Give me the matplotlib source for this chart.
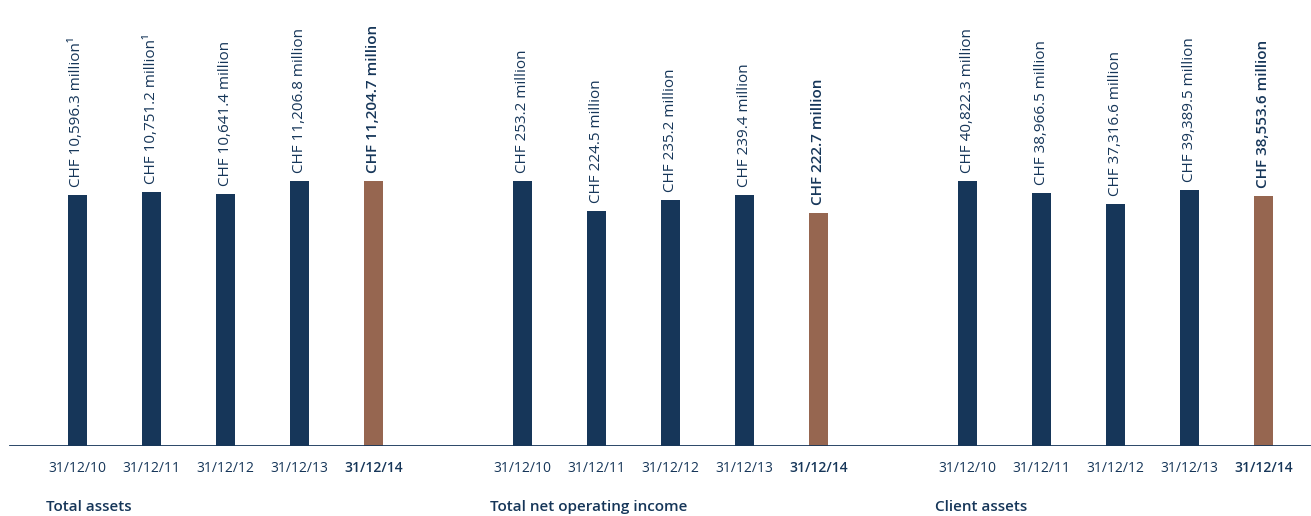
import numpy as np
import matplotlib.pyplot as plt

plt.rcParams['font.family'] = ['Open Sans', 'DejaVu Sans']

groups = ['Total assets', 'Total net operating income', 'Client assets']
dates = ['31/12/10', '31/12/11', '31/12/12', '31/12/13', '31/12/14']
total_assets = [10596.3, 10751.2, 10641.4, 11206.8, 11204.7]
net_income = [253.2, 224.5, 235.2, 239.4, 222.7]
client_assets = [40822.3, 38966.5, 37316.6, 39389.5, 38553.6]
footnote = [['¹', '¹', '', '', ''], ['', '', '', '', ''], ['', '', '', '', '']]

navy = '#163659'
brown = '#966650'

fig = plt.figure(figsize=(13.11, 5.16), dpi=100)
# axes spans from the baseline (y=446px) up to the top of the figure
ax = fig.add_axes([0, 70 / 516, 1, 446 / 516])
px = 74.06
ax.set_xlim(-77 / px, (1311 - 77) / px)
ax.set_ylim(0, 446 / 265)

positions = []
labels = []
for g, vals in enumerate([total_assets, net_income, client_assets]):
    vmax = max(vals)
    for i, v in enumerate(vals):
        x = g * 6.01 + i
        h = v / vmax
        last = i == len(vals) - 1
        ax.bar(x, h, width=19 / px, color=brown if last else navy, zorder=2)
        if v >= 1000:
            s = 'CHF {:,.1f} million'.format(v)
        else:
            s = 'CHF {:.1f} million'.format(v)
        s += footnote[g][i]
        ax.text(x, h + 8 / 265, s, rotation=90, ha='center', va='bottom',
                fontsize=11, color=navy,
                fontweight='semibold' if last else 'normal')
        positions.append(x)
        labels.append(dates[i])
    fig.text((46 + g * 444.5) / 1311, 9 / 516, groups[g], ha='left',
             va='center', fontsize=11, fontweight='semibold', color=navy)

ax.axhline(0, xmin=10 / 1311, xmax=1, color=navy, lw=2, zorder=3)

ax.set_xticks(positions)
ax.set_xticklabels(labels, fontsize=10, color=navy)
for k, t in enumerate(ax.get_xticklabels()):
    if k % 5 == 4:
        t.set_fontweight('semibold')
ax.tick_params(axis='x', length=0, pad=11)
ax.set_yticks([])
for sp in ax.spines.values():
    sp.set_visible(False)

fig.savefig('out.png', dpi=100)
